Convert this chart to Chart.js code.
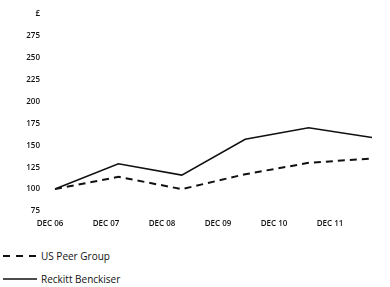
<!DOCTYPE html>
<html>
<head>
<meta charset="utf-8">
<script src="https://cdn.jsdelivr.net/npm/chart.js@4"></script>
<style>
  html, body { margin: 0; padding: 0; background: #fff; }
  #wrap { position: relative; width: 390px; height: 287px; }
  #chartBox { position: absolute; left: 0; top: 0; width: 390px; height: 240px; }
  #legend { position: absolute; left: 3px; top: 244px; font-family: 'Open Sans', sans-serif; font-size: 10px; color: #111; }
  #legend div { display: flex; align-items: center; height: 23px; }
  #legend svg { margin-right: 4px; }
</style>
</head>
<body>
<div id="wrap">
  <div id="chartBox"><canvas id="tsrChart"></canvas></div>
  <div id="legend"></div>
</div>
<script>
//  Chart data
const years = ['DEC 06', 'DEC 07', 'DEC 08', 'DEC 09', 'DEC 10', 'DEC 11']
const reckittValues = [100, 129, 116, 157, 170, 159]
const peerValues = [100, 114, 100, 117, 130, 135]
const yTicks = [75, 100, 125, 150, 175, 200, 225, 250, 275, 300]

const tickFont = { family: "'Open Sans', sans-serif", size: 8, weight: '600' }

var ctx = document.getElementById('tsrChart').getContext('2d')
var tsrChart = new Chart(ctx, {
  type: 'line',
  data: {
    labels: years,
    datasets: [
      {
        label: 'US Peer Group',
        data: peerValues,
        borderColor: '#111',
        borderWidth: 2,
        borderDash: [7, 5],
        pointRadius: 0,
        tension: 0
      },
      {
        label: 'Reckitt Benckiser',
        data: reckittValues,
        borderColor: '#111',
        borderWidth: 1.6,
        pointRadius: 0,
        tension: 0
      }
    ]
  },
  options: {
    responsive: true,
    maintainAspectRatio: false,
    animation: false,
    layout: { padding: { left: 0, right: 18, top: 14, bottom: 11 } },
    plugins: {
      legend: { display: false },
      tooltip: { enabled: false }
    },
    scales: {
      // data axis, hidden; the year labels sit on their own axis below
      x: {
        display: false,
        offset: false
      },
      // year labels, a little tighter than the data points as in the print
      xLab: {
        type: 'linear',
        position: 'bottom',
        min: 0.089,
        max: 5.75,
        grid: { display: false, drawTicks: false },
        border: { display: false },
        afterBuildTicks: (scale) => { scale.ticks = years.map((y, i) => ({ value: i })) },
        afterFit: (scale) => { scale.height = 18 },
        ticks: {
          color: '#111',
          font: tickFont,
          padding: 8,
          maxRotation: 0,
          autoSkip: false,
          callback: (v) => years[v]
        }
      },
      y: {
        min: yTicks[0],
        max: yTicks[yTicks.length - 1],
        grid: { display: false, drawTicks: false },
        border: { display: false },
        afterBuildTicks: (scale) => { scale.ticks = yTicks.map(v => ({ value: v })) },
        // wide gap to the plot, but don't let that gap push the plot down
        afterFit: (scale) => {
          scale.width = 55
          scale.paddingTop = 5
          scale.paddingBottom = 5
        },
        ticks: {
          color: '#111',
          font: tickFont,
          padding: 15,
          callback: (v) => v === 300 ? '£' : v
        }
      }
    }
  }
})

//  HTML legend, one row per series
const legendBox = document.getElementById('legend')
tsrChart.data.datasets.forEach(ds => {
  const row = document.createElement('div')
  const dash = ds.borderDash ? '7 6' : 'none'
  row.innerHTML = `<svg width="34" height="4"><line x1="0" y1="2" x2="34" y2="2" stroke="#111" stroke-width="${ds.borderDash ? 2 : 1.6}" stroke-dasharray="${dash}"/></svg><span>${ds.label}</span>`
  legendBox.appendChild(row)
})
</script>
</body>
</html>
